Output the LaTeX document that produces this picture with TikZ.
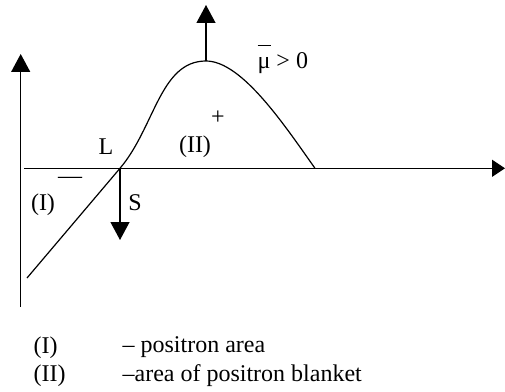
\documentclass[tikz,border=0pt]{standalone}
\usepackage{fontspec}
\setmainfont{Liberation Serif}
\usetikzlibrary{arrows.meta}
\begin{document}
\begin{tikzpicture}[x=1pt,y=1pt,
  line width=1.2pt,
  bigtip/.style={-{Triangle[length=18pt,width=19pt]}},
  axistip/.style={-{Triangle[length=13pt,width=17pt]}},
  lbl/.style={inner sep=0pt,font=\fontsize{24}{28}\selectfont},
  leg/.style={inner sep=0pt,anchor=west,font=\fontsize{24}{28}\selectfont}]
\useasboundingbox (0,0) rectangle (505,391);
% axes
\coordinate (vb) at (20.7,84.3);
\coordinate (vt) at (20.7,337);
\coordinate (hl) at (24,222.7);
\coordinate (hr) at (505,222.7);
\draw[bigtip] (vb) -- (vt);
\draw[axistip] (hl) -- (hr);
% curve
\coordinate (A) at (27,113);
\coordinate (L) at (120,222.7);
\coordinate (P) at (206,330);
\coordinate (E) at (315,222.7);
\draw (A) -- (L) .. controls (155,264) and (160,330) .. (P)
      .. controls (242,330) and (285,265) .. (E);
% arrows
\coordinate (Ptop) at (206,386);
\coordinate (Sbot) at (120,151);
\draw[bigtip] (P) -- (Ptop);
\draw[bigtip] (L) -- (Sbot);
% labels
\node[lbl] (lL) at (106,244) {L};
\node[lbl] (lII) at (195,244) {(II)};
\node[lbl] (lplus) at (218,273) {+};
\node[lbl,anchor=base west] (lmu) at (257,322) {\rlap{\rule[0.95em]{0.56em}{1.1pt}}μ > 0};
\node[lbl] (lI) at (43,186) {(I)};
\node[lbl] (lminus) at (70,211) {—};
\node[lbl] (lS) at (135,188) {S};
% legend
\node[leg] (k1) at (33,43.5) {(I)};
\node[leg] (d1) at (122,43.5) {– positron area};
\node[leg] (k2) at (33,15) {(II)};
\node[leg] (d2) at (122,15) {–area of positron blanket};
\end{tikzpicture}
\end{document}
